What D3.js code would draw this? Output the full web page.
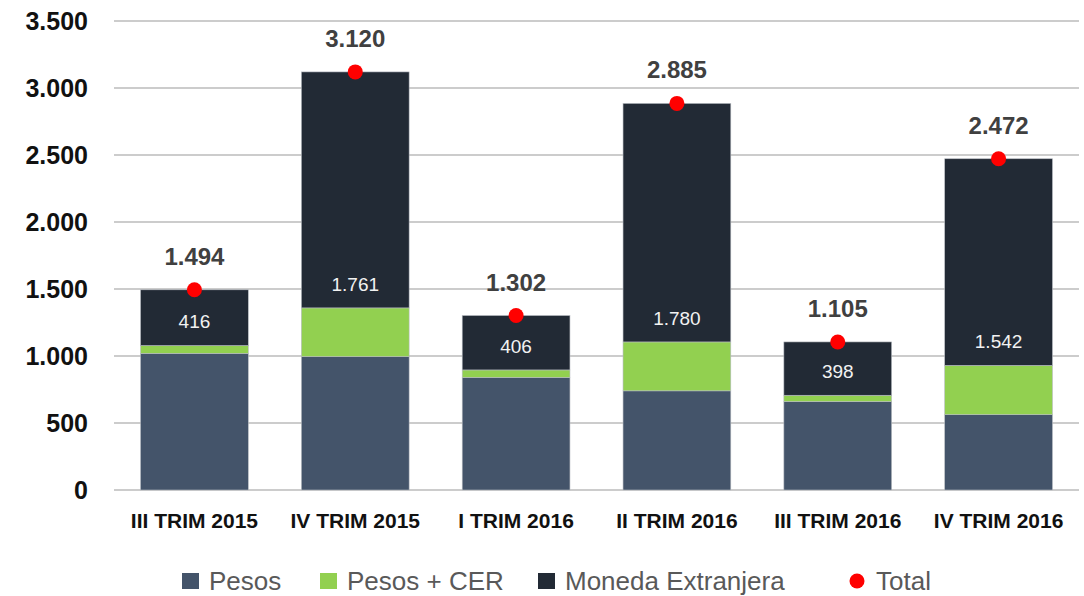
<!DOCTYPE html>
<html>
<head>
<meta charset="utf-8">
<script src="https://cdn.jsdelivr.net/npm/d3@7"></script>
<style>
  body { margin: 0; background: #fff; }
  svg { display: block; font-family: "Liberation Sans", Arial, sans-serif; }
</style>
</head>
<body>
<div id="chart"></div>
<script>
// trimestres y series (millones)
let categories = ["III TRIM 2015","IV TRIM 2015","I TRIM 2016","II TRIM 2016","III TRIM 2016","IV TRIM 2016"];
let pesos      = [1020, 995, 840, 740, 660, 562];
let pesosCER   = [58, 364, 56, 365, 47, 368];
let monedaExt  = [416, 1761, 406, 1780, 398, 1542];
let totals     = [1494, 3120, 1302, 2885, 1105, 2472];
let yTicks     = [0, 500, 1000, 1500, 2000, 2500, 3000, 3500];

let seriesKeys   = ["pesos","cer","me"];
let seriesNames  = ["Pesos","Pesos + CER","Moneda Extranjera"];
let seriesColors = ["#44546A","#92D050","#222A35"];

let Width = 1084, Height = 596;
let margin = {left: 114, right: 5, top: 21, bottom: 106};

let svg = d3.select("#chart").append("svg")
    .attr("width", Width)
    .attr("height", Height);

let x = d3.scaleBand()
    .domain(categories)
    .range([margin.left, Width - margin.right])
    .paddingInner(0.33)
    .paddingOuter(0.165);

let y = d3.scaleLinear()
    .domain([0, 3500])
    .range([Height - margin.bottom, margin.top]);

// formato con punto de miles
let fmt = v => d3.format(",")(v).replace(/,/g, ".");

// gridlines
svg.append("g")
    .selectAll("line")
    .data(yTicks)
    .join("line")
    .attr("x1", margin.left)
    .attr("x2", Width - margin.right)
    .attr("y1", d => y(d))
    .attr("y2", d => y(d))
    .attr("stroke", "#cccccc")
    .attr("stroke-width", 2);

// y tick labels
svg.append("g")
    .selectAll("text")
    .data(yTicks)
    .join("text")
    .attr("x", 88)
    .attr("y", d => y(d))
    .attr("dy", "0.36em")
    .attr("text-anchor", "end")
    .attr("font-size", 25)
    .attr("font-weight", "bold")
    .attr("fill", "#111")
    .text(d => fmt(d));

// stack
let rows = categories.map((c, i) => ({cat: c, pesos: pesos[i], cer: pesosCER[i], me: monedaExt[i]}));
let stacked = d3.stack().keys(seriesKeys)(rows);

svg.append("g")
    .selectAll("g")
    .data(stacked)
    .join("g")
    .attr("fill", (d, i) => seriesColors[i])
    .selectAll("rect")
    .data(d => d)
    .join("rect")
    .attr("x", d => x(d.data.cat))
    .attr("width", x.bandwidth())
    .attr("y", d => y(d[1]))
    .attr("height", d => y(d[0]) - y(d[1]))
    .attr("stroke", "#b8bcc2")
    .attr("stroke-width", 0.6);

// etiquetas Moneda Extranjera (dentro, cerca de la base)
let meLayer = stacked[2];
svg.append("g")
    .selectAll("text")
    .data(meLayer)
    .join("text")
    .attr("x", d => x(d.data.cat) + x.bandwidth() / 2)
    .attr("y", d => y(d[0]) - 24)
    .attr("dy", "0.36em")
    .attr("text-anchor", "middle")
    .attr("font-size", 19)
    .attr("fill", "#f2f2f2")
    .text(d => fmt(d.data.me));

// total: puntos rojos y etiquetas
svg.append("g")
    .selectAll("circle")
    .data(totals)
    .join("circle")
    .attr("cx", (d, i) => x(categories[i]) + x.bandwidth() / 2)
    .attr("cy", d => y(d))
    .attr("r", 7.5)
    .attr("fill", "#FF0000");

svg.append("g")
    .selectAll("text")
    .data(totals)
    .join("text")
    .attr("x", (d, i) => x(categories[i]) + x.bandwidth() / 2)
    .attr("y", d => y(d) - 25)
    .attr("text-anchor", "middle")
    .attr("font-size", 24)
    .attr("font-weight", "bold")
    .attr("fill", "#404040")
    .text(d => fmt(d));

// category labels
svg.append("g")
    .selectAll("text")
    .data(categories)
    .join("text")
    .attr("x", d => x(d) + x.bandwidth() / 2)
    .attr("y", 528)
    .attr("text-anchor", "middle")
    .attr("font-size", 21)
    .attr("font-weight", "bold")
    .attr("fill", "#111")
    .text(d => d);

// legend
let legendItems = [
    {name: seriesNames[0], color: seriesColors[0], x: 182, shape: "rect"},
    {name: seriesNames[1], color: seriesColors[1], x: 320, shape: "rect"},
    {name: seriesNames[2], color: seriesColors[2], x: 538, shape: "rect"},
    {name: "Total", color: "#FF0000", x: 849, shape: "circle"}
];
let lg = svg.append("g")
    .selectAll("g")
    .data(legendItems)
    .join("g")
    .attr("transform", d => "translate(" + d.x + ",581)");

lg.filter(d => d.shape == "rect").append("rect")
    .attr("x", 0).attr("y", -8)
    .attr("width", 17).attr("height", 16)
    .attr("fill", d => d.color);

lg.filter(d => d.shape == "circle").append("circle")
    .attr("cx", 8).attr("cy", 0).attr("r", 7.5)
    .attr("fill", d => d.color);

lg.append("text")
    .attr("x", 27)
    .attr("y", 0)
    .attr("dy", "0.36em")
    .attr("font-size", 26)
    .attr("fill", "#595959")
    .text(d => d.name);
</script>
</body>
</html>
